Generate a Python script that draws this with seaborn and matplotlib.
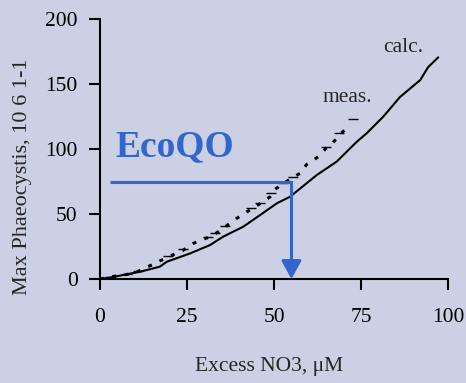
import numpy as np
import pandas as pd
import matplotlib
matplotlib.use("Agg")
import matplotlib.pyplot as plt
import seaborn as sns

# ---- data ----
calc_x = [0, 3, 6.7, 11.5, 17.2, 19.2, 25.9, 31.6, 35.4, 41.2, 46.0, 50.8, 54.6,
          62.3, 68.0, 73.8, 76.6, 81.4, 86.2, 92.0, 94.3, 97.2]
calc_y = [0, 1.2, 3.1, 5.6, 9.5, 13.3, 19.7, 26.1, 32.6, 40.3, 49.2, 58.2, 63.3,
          80.0, 90.3, 105.6, 112.0, 124.9, 140.0, 153.0, 163.0, 170.5]

meas_x = [0, 2.9, 7.7, 11.0, 14.8, 19.6, 23.8, 26.8, 31.1, 33.0, 35.9, 39.3, 43.3,
          46.0, 48.9, 50.3, 52.7, 55.6, 57.5, 59.4, 62.7, 64.9, 66.6, 68.5, 71.8]
meas_y = [0, 1.6, 3.5, 6.0, 10.8, 17.0, 22.0, 27.4, 32.0, 34.5, 40.0, 46.7, 53.5,
          58.0, 63.3, 69.0, 73.5, 78.5, 81.3, 88.2, 94.0, 100.5, 103.6, 110.0, 118.5]

mark_x = [2.9, 7.7, 11.0, 19.6, 23.8, 31.1, 33.0, 35.9, 43.3, 46.0, 49.0, 52.7,
          55.6, 64.9, 68.8, 72.8]
mark_y = [1.8, 3.8, 6.4, 17.7, 22.8, 32.6, 35.1, 40.8, 54.4, 58.7, 65.9, 74.1,
          78.7, 101.8, 112.0, 123.0]

eco_x = [3, 55]
eco_y = 75

x_ticks = [0, 25, 50, 75, 100]
y_ticks = [0, 50, 100, 150, 200]

# ---- style ----
bg = "#CBD0E4"
blue = "#3366CC"
sns.set_style("ticks")
plt.rcParams["font.family"] = ["Liberation Serif", "DejaVu Serif"]

fig = plt.figure(figsize=(4.66, 3.83), dpi=100, facecolor=bg)
ax = fig.add_axes([0.2146, 0.2715, 0.9614 - 0.2146, 0.9504 - 0.2715])
ax.set_facecolor(bg)

calc_df = pd.DataFrame({"x": calc_x, "y": calc_y})
meas_df = pd.DataFrame({"x": meas_x, "y": meas_y})
mark_df = pd.DataFrame({"x": mark_x, "y": mark_y})

sns.lineplot(data=calc_df, x="x", y="y", ax=ax, color="black", lw=1.5,
             sort=False, estimator=None)
sns.lineplot(data=meas_df, x="x", y="y", ax=ax, color="black", lw=2.2,
             linestyle=(0, (1.3, 2.8)), sort=False, estimator=None)
sns.scatterplot(data=mark_df, x="x", y="y", ax=ax, marker="_", s=60,
                color="black", linewidth=1.0)

# EcoQO line + arrow
ax.plot([eco_x[0], eco_x[1], eco_x[1]], [eco_y, eco_y, 12], color=blue, lw=2.2,
        solid_capstyle="butt", solid_joinstyle="miter")
ax.annotate("", xy=(eco_x[1], 0), xytext=(eco_x[1], 14),
            arrowprops=dict(arrowstyle="-|>,head_length=1.0,head_width=0.55",
                            mutation_scale=11, color=blue, lw=2.2,
                            shrinkA=0, shrinkB=0), annotation_clip=False)

ax.text(4.3, 101.5, "EcoQO", color=blue, fontsize=27, fontweight="bold",
        ha="left", va="center")
ax.text(87, 178, "calc.", fontsize=15.5, ha="center", va="center")
ax.text(71, 140, "meas.", fontsize=15.5, ha="center", va="center")

ax.set_xlim(0, 100)
ax.set_ylim(0, 200)
ax.set_xticks(x_ticks)
ax.set_yticks(y_ticks)
ax.tick_params(axis="both", direction="out", length=8, width=1.5, labelsize=15.5,
               color="black", labelcolor="black")
ax.tick_params(axis="x", pad=13)
ax.tick_params(axis="y", pad=8)
for s in ["top", "right"]:
    ax.spines[s].set_visible(False)
for s in ["left", "bottom"]:
    ax.spines[s].set_linewidth(1.5)
    ax.spines[s].set_color("black")

ax.set_xlabel("Excess NO3, μM", fontsize=15.5, va="center")
ax.set_ylabel("Max Phaeocystis, 10 6 1-1", fontsize=16, va="center")
ax.xaxis.set_label_coords(0.486, -0.338)
ax.yaxis.set_label_coords(-0.224, 0.392)

fig.savefig("out.png", dpi=100, facecolor=bg)
